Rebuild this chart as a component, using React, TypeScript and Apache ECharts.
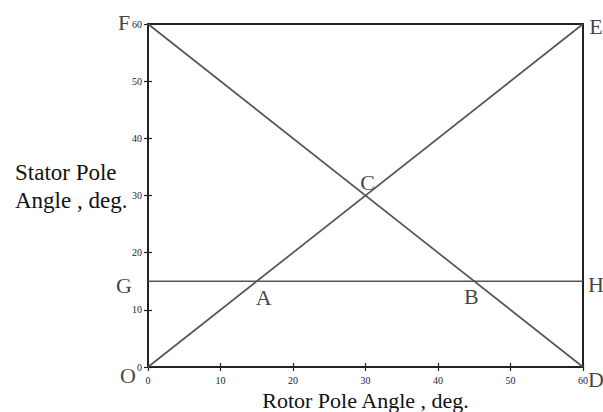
import React, { useEffect, useRef } from "react";
import * as echarts from "echarts";

// Rotor angle axis (deg.)
const rotorAngle = [0, 60];
// Rising diagonal O → E
const risingLine = [0, 60];
// Falling diagonal F → D
const fallingLine = [60, 0];
// Horizontal line G → H at 15 deg.
const levelLine = [15, 15];

// Labelled points: name, rotor angle, stator angle, label offset from the point
const pointNames = ["F", "E", "G", "H", "A", "B", "C", "O", "D"];
const pointX = [0, 60, 0, 60, 15, 45, 30, 0, 60];
const pointY = [60, 60, 15, 15, 15, 15, 30, 0, 0];
const pointOffset = [
  [-24, -2], [13, 2], [-24, 4], [13, 3], [7, 16], [-3, 15], [2, -13], [-20, 8], [13, 12],
];

const SERIF = "'Liberation Serif', 'DejaVu Serif', serif";

export default function App() {
  const ref = useRef<HTMLDivElement>(null);

  useEffect(() => {
    if (!ref.current) return;
    const chart = echarts.init(ref.current, undefined, { renderer: "svg" });
    const lineStyle = { color: "#555", width: 1.7 };
    const mkLine = (ys: number[]) => rotorAngle.map((x, i) => [x, ys[i]]);
    const tick = { show: true, inside: true, length: 4, lineStyle: { color: "#222", width: 1.2 } };

    chart.setOption({
      animation: false,
      backgroundColor: "#fff",
      grid: {
        left: 148,
        right: 20,
        top: 24,
        bottom: 45,
        outerBoundsMode: "none",
        containLabel: false,
        show: true,
        borderColor: "#222",
        borderWidth: 2,
        backgroundColor: "transparent",
      },
      xAxis: [
        {
          type: "value",
          min: 0,
          max: 60,
          interval: 10,
          axisLine: { show: false },
          splitLine: { show: false },
          axisTick: tick,
          axisLabel: { color: "#223", fontFamily: SERIF, fontSize: 10, margin: 8 },
          name: "Rotor Pole Angle , deg.",
          nameLocation: "middle",
          nameGap: 19,
          nameTextStyle: { color: "#111", fontFamily: SERIF, fontSize: 22, verticalAlign: "top" },
        },
        {
          type: "value",
          position: "top",
          min: 0,
          max: 60,
          interval: 10,
          axisLine: { show: false },
          splitLine: { show: false },
          axisTick: tick,
          axisLabel: { show: false },
        },
      ],
      yAxis: [
        {
          type: "value",
          min: 0,
          max: 60,
          interval: 10,
          axisLine: { show: false },
          splitLine: { show: false },
          axisTick: tick,
          axisLabel: { color: "#223", fontFamily: SERIF, fontSize: 10, margin: 6 },
        },
        {
          type: "value",
          position: "right",
          min: 0,
          max: 60,
          interval: 10,
          axisLine: { show: false },
          splitLine: { show: false },
          axisTick: tick,
          axisLabel: { show: false },
        },
      ],
      graphic: [
        {
          type: "text",
          left: 15,
          top: 158,
          style: {
            text: "Stator Pole\nAngle , deg.",
            fill: "#111",
            font: `23px ${SERIF}`,
            lineHeight: 28,
            align: "left",
          },
        },
      ],
      series: [
        { type: "line", data: mkLine(risingLine), symbol: "none", lineStyle, silent: true },
        { type: "line", data: mkLine(fallingLine), symbol: "none", lineStyle, silent: true },
        { type: "line", data: mkLine(levelLine), symbol: "none", lineStyle, silent: true },
        {
          type: "scatter",
          symbolSize: 0,
          clip: false,
          silent: true,
          data: pointNames.map((n, i) => ({
            name: n,
            value: [pointX[i], pointY[i]],
            label: {
              show: true,
              position: "inside",
              offset: pointOffset[i],
              align: "center",
              verticalAlign: "middle",
              formatter: n,
              color: "#111",
              fontFamily: SERIF,
              fontSize: 22,
            },
          })),
        },
      ],
    });
    return () => chart.dispose();
  }, []);

  return (
    <div
      ref={ref}
      style={{ position: "fixed", left: 0, top: 0, width: 603, height: 412 }}
    />
  );
}
